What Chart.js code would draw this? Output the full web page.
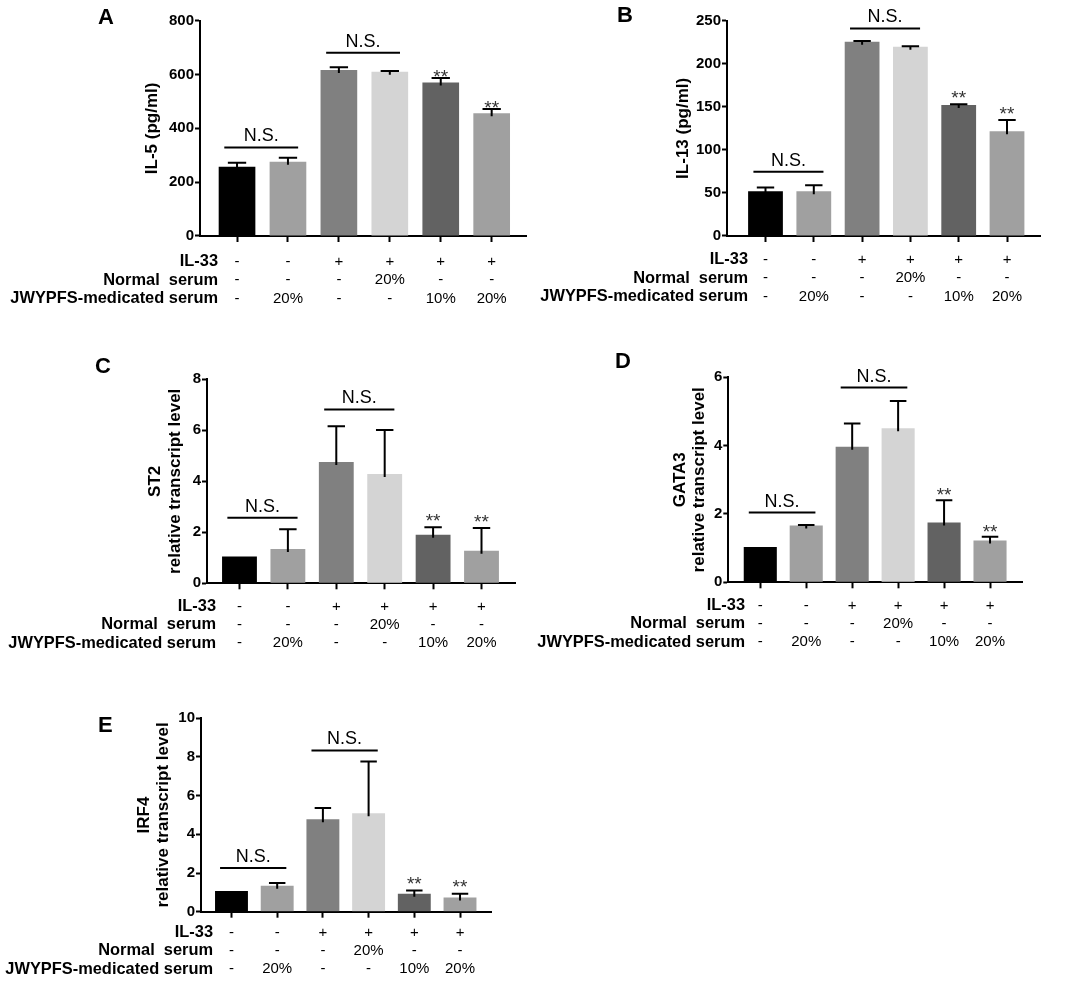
<!DOCTYPE html>
<html>
<head>
<meta charset="utf-8">
<title>IL-5 / IL-13 / ST2 / GATA3 / IRF4</title>
<script src="https://cdn.jsdelivr.net/npm/chart.js@4.4.1/dist/chart.umd.min.js"></script>
<style>
html, body { margin: 0; padding: 0; background: #fff; }
#wrap { position: relative; width: 1072px; height: 981px; overflow: hidden; }
#wrap canvas { position: absolute; left: 0; top: 0; }
</style>
</head>
<body>
<div id="wrap">
  <canvas id="chartA" width="1072" height="981"></canvas>
  <canvas id="chartB" width="1072" height="981"></canvas>
  <canvas id="chartC" width="1072" height="981"></canvas>
  <canvas id="chartD" width="1072" height="981"></canvas>
  <canvas id="chartE" width="1072" height="981"></canvas>
</div>
<script>
const FONT = "'Liberation Sans', Arial, Helvetica, sans-serif";

// treatment rows printed under each bar
const il33 = ['-', '-', '+', '+', '+', '+'];
const normalSerum = ['-', '-', '-', '20%', '-', '-'];
const jwypfsSerum = ['-', '20%', '-', '-', '10%', '20%'];
const rowTitles = ['IL-33', 'Normal  serum', 'JWYPFS-medicated serum'];
const sigMarks = ['', '', '', '', '**', '**'];
const nsPairs = [[0, 1], [2, 3]];
const barColors = ['#000000', '#a0a0a0', '#808080', '#d4d4d4', '#626262', '#a0a0a0'];

// A: IL-5 (pg/ml)
const il5Mean = [257, 276, 617, 610, 570, 456];
const il5Sd = [15, 15, 10, 3, 17, 16];
const il5Ns = [329, 681];

// B: IL-13 (pg/ml)
const il13Mean = [52, 52, 225.6, 219.8, 152, 121.5];
const il13Sd = [4.2, 6.9, 0.8, 0.5, 1, 13.2];
const il13Ns = [74.7, 241];

// C: ST2 relative transcript level
const st2Mean = [1.05, 1.35, 4.76, 4.29, 1.9, 1.28];
const st2Sd = [0, 0.77, 1.4, 1.72, 0.3, 0.89];
const st2Ns = [2.575, 6.82];

// D: GATA3 relative transcript level
const gata3Mean = [1.03, 1.66, 3.97, 4.51, 1.75, 1.22];
const gata3Sd = [0, 0.02, 0.68, 0.8, 0.65, 0.11];
const gata3Ns = [2.04, 5.7];

// E: IRF4 relative transcript level
const irf4Mean = [1.07, 1.34, 4.78, 5.09, 0.93, 0.74];
const irf4Sd = [0, 0.14, 0.58, 2.67, 0.16, 0.19];
const irf4Ns = [2.26, 8.34];

const TICK_LEN = 6;
const ROW_FONT = 15;
const ROW_LH = 1.22;

// plot box = [left, top, right, bottom] of each chart area on the page
const panels = [
  { id: 'chartA', letter: 'A', letterPos: [98, 23.5], title: 'IL-5 (pg/ml)', titleSize: 17, titleLh: 1.2,
    mean: il5Mean, sd: il5Sd, ns: il5Ns, yMax: 800, yStep: 200,
    box: [200, 20.7, 526, 236], titleX: 152, xRange: [-0.727, 5.674], tickPad: 10.75, rowRight: 218, starGap: 6 },
  { id: 'chartB', letter: 'B', letterPos: [617, 22], title: 'IL-13 (pg/ml)', titleSize: 17, titleLh: 1.2,
    mean: il13Mean, sd: il13Sd, ns: il13Ns, yMax: 250, yStep: 50,
    box: [727, 20.7, 1040, 236], titleX: 683, xRange: [-0.797, 5.683], tickPad: 8.75, rowRight: 748, starGap: 11 },
  { id: 'chartC', letter: 'C', letterPos: [95, 373], title: ['ST2', 'relative transcript level'], titleSize: 17, titleLh: 1.2,
    mean: st2Mean, sd: st2Sd, ns: st2Ns, yMax: 8, yStep: 2,
    box: [207, 379.3, 515, 583.3], titleX: 155, xRange: [-0.671, 5.692], tickPad: 8.15, rowRight: 216, starGap: 11 },
  { id: 'chartD', letter: 'D', letterPos: [615, 368], title: ['GATA3', 'relative transcript level'], titleSize: 17, titleLh: 1.16,
    mean: gata3Mean, sd: gata3Sd, ns: gata3Ns, yMax: 6, yStep: 2,
    box: [728.3, 377.3, 1022, 582.3], titleX: 680, xRange: [-0.696, 5.696], tickPad: 8.15, rowRight: 745, starGap: 10 },
  { id: 'chartE', letter: 'E', letterPos: [98, 732], title: ['IRF4', 'relative transcript level'], titleSize: 17, titleLh: 1.14,
    mean: irf4Mean, sd: irf4Sd, ns: irf4Ns, yMax: 10, yStep: 2,
    box: [201, 718.3, 491, 911.7], titleX: 144, xRange: [-0.667, 5.678], tickPad: 5.55, rowRight: 213, starGap: 12 }
];

Chart.defaults.font.family = FONT;
Chart.defaults.color = '#000';

function makeDeco(p) {
  return {
    id: 'deco' + p.letter,
    afterDatasetsDraw(chart) {
      // upper error bars with a T cap
      const ctx = chart.ctx;
      const y = chart.scales.y;
      const bars = chart.getDatasetMeta(0).data;
      ctx.save();
      ctx.strokeStyle = '#000';
      ctx.lineWidth = 2;
      bars.forEach((bar, i) => {
        if (!p.sd[i]) return;
        const top = y.getPixelForValue(p.mean[i] + p.sd[i]);
        const half = bar.width * 0.25;
        ctx.beginPath();
        ctx.moveTo(bar.x, bar.y + 3);
        ctx.lineTo(bar.x, top);
        ctx.moveTo(bar.x - half, top);
        ctx.lineTo(bar.x + half, top);
        ctx.stroke();
      });
      ctx.restore();
    },
    afterDraw(chart) {
      const ctx = chart.ctx;
      const x = chart.scales.x;
      const y = chart.scales.y;
      const step = x.getPixelForValue(1) - x.getPixelForValue(0);
      ctx.save();
      ctx.fillStyle = '#000';
      ctx.strokeStyle = '#000';
      ctx.lineWidth = 2;

      // N.S. brackets
      nsPairs.forEach(([a, b], k) => {
        const ly = y.getPixelForValue(p.ns[k]);
        const x0 = x.getPixelForValue(a) - step * 0.25;
        const x1 = x.getPixelForValue(b) + step * 0.2;
        ctx.beginPath();
        ctx.moveTo(x0, ly);
        ctx.lineTo(x1, ly);
        ctx.stroke();
        ctx.font = '18px ' + FONT;
        ctx.textAlign = 'center';
        ctx.textBaseline = 'alphabetic';
        ctx.fillText('N.S.', (x0 + x1) / 2, ly - 6);
      });

      // significance stars
      ctx.font = '19px ' + FONT;
      ctx.fillStyle = '#333';
      ctx.textAlign = 'center';
      ctx.textBaseline = 'alphabetic';
      sigMarks.forEach((m, i) => {
        if (!m) return;
        const top = y.getPixelForValue(p.mean[i] + p.sd[i]);
        ctx.fillText(m, x.getPixelForValue(i), top - p.starGap + 11);
      });

      // row titles left of the treatment table
      ctx.fillStyle = '#000';
      ctx.font = 'bold 16.4px ' + FONT;
      ctx.textAlign = 'right';
      ctx.textBaseline = 'middle';
      const lh = ROW_FONT * ROW_LH;
      rowTitles.forEach((t, r) => {
        ctx.fillText(t, p.rowRight, x.top + TICK_LEN + p.tickPad + lh * (r + 0.5));
      });

      // panel letter
      ctx.font = 'bold 22px ' + FONT;
      ctx.textAlign = 'left';
      ctx.textBaseline = 'alphabetic';
      ctx.fillText(p.letter, p.letterPos[0], p.letterPos[1]);
      ctx.restore();
    }
  };
}

panels.forEach(p => {
  const padL = p.titleX - p.titleSize * p.titleLh / 2;
  const [left, top, right, bottom] = p.box;
  const xAxisH = Math.min(80, 981 - bottom);
  new Chart(document.getElementById(p.id), {
    type: 'bar',
    data: {
      datasets: [{
        data: p.mean.map((v, i) => ({ x: i, y: v })),
        backgroundColor: barColors,
        borderWidth: 0,
        barPercentage: 0.72,
        categoryPercentage: 1
      }]
    },
    options: {
      responsive: false,
      animation: false,
      events: [],
      layout: {
        padding: { left: padL, top: top, right: 1072 - right, bottom: 981 - bottom - xAxisH }
      },
      plugins: { legend: { display: false }, tooltip: { enabled: false } },
      scales: {
        x: {
          type: 'linear',
          min: p.xRange[0],
          max: p.xRange[1],
          offset: false,
          afterBuildTicks: s => { s.ticks = il33.map((_, i) => ({ value: i })); },
          afterFit: s => { s.height = xAxisH; },
          grid: { offset: false, drawOnChartArea: false, drawTicks: true, tickLength: TICK_LEN, tickWidth: 2, tickColor: '#000' },
          border: { display: true, color: '#000', width: 2 },
          ticks: {
            autoSkip: false, maxRotation: 0, minRotation: 0,
            padding: p.tickPad, color: '#000',
            font: { size: ROW_FONT, lineHeight: ROW_LH },
            callback: v => [il33[v], normalSerum[v], jwypfsSerum[v]]
          }
        },
        y: {
          min: 0,
          max: p.yMax,
          afterFit: s => { s.width = left - padL; },
          grid: { drawOnChartArea: false, tickLength: 5, tickWidth: 2, tickColor: '#000' },
          border: { display: true, color: '#000', width: 2 },
          ticks: { stepSize: p.yStep, padding: 1, color: '#000', font: { size: 15, weight: 'bold' } },
          title: {
            display: true, text: p.title, padding: 0, color: '#000',
            font: { size: p.titleSize, weight: 'bold', lineHeight: p.titleLh }
          }
        }
      }
    },
    plugins: [makeDeco(p)]
  });
});
</script>
</body>
</html>
